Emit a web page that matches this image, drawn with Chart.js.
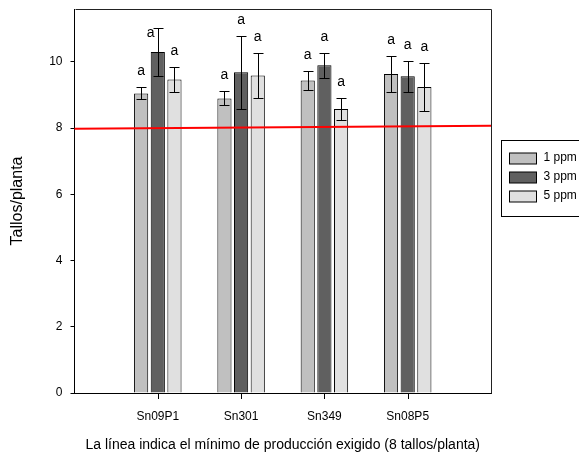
<!DOCTYPE html>
<html>
<head>
<meta charset="utf-8">
<script src="https://cdn.jsdelivr.net/npm/chart.js@4.4.1/dist/chart.umd.min.js"></script>
<style>
  html, body { margin: 0; padding: 0; background: #fff; }
</style>
</head>
<body>
<canvas id="c" width="579" height="459"></canvas>
<script>
// Categories (empty slots at both ends keep the clones away from the frame)
const categories = ['', 'Sn09P1', 'Sn301', 'Sn349', 'Sn08P5', ''];
const seriesNames = ['1 ppm', '3 ppm', '5 ppm'];

// Mean stems per plant
const means1ppm = [null, 9.05, 8.90, 9.44, 9.64, null];
const means3ppm = [null, 10.30, 9.69, 9.90, 9.57, null];
const means5ppm = [null, 9.47, 9.59, 8.58, 9.24, null];

// Standard error of each mean
const err1ppm = [null, 0.18, 0.21, 0.29, 0.54, null];
const err3ppm = [null, 0.73, 1.10, 0.38, 0.47, null];
const err5ppm = [null, 0.37, 0.69, 0.34, 0.72, null];

// Significance letters
const letters1ppm = ['', 'a', 'a', 'a', 'a', ''];
const letters3ppm = ['', 'a', 'a', 'a', 'a', ''];
const letters5ppm = ['', 'a', 'a', 'a', 'a', ''];

// Minimum required production (8 stems/plant), drawn edge to edge
const minimumLine = [7.98, null, null, null, null, 8.07];

const yTicks = [0, 2, 4, 6, 8, 10];
const yMax = 11.6;

const FONT = 'Liberation Sans, Arial, Helvetica, sans-serif';
const fills = ['#c0c0c0', '#606060', '#e0e0e0'];

const errors = [err1ppm, err3ppm, err5ppm];
const letters = [letters1ppm, letters3ppm, letters5ppm];

// Error bars, letters above each bar, and x tick marks under each group
const errorBarPlugin = {
  id: 'errorBars',
  afterDatasetsDraw(chart) {
    const ctx = chart.ctx;
    const y = chart.scales.y;
    const area = chart.chartArea;
    ctx.save();
    chart.data.datasets.forEach((ds, di) => {
      if (ds.type === 'line') return;
      const s = ds.seriesIndex;
      const meta = chart.getDatasetMeta(di);
      meta.data.forEach((bar, i) => {
        const m = ds.data[i];
        const e = errors[s][i];
        if (m == null || e == null) return;
        const x = Math.round(bar.x) + 0.5;
        const yt = Math.round(y.getPixelForValue(m + e)) + 0.5;
        const yb = Math.round(y.getPixelForValue(m - e)) + 0.5;
        ctx.strokeStyle = '#000';
        ctx.lineWidth = 1;
        ctx.beginPath();
        ctx.moveTo(x, yt); ctx.lineTo(x, yb);
        ctx.moveTo(x - 5, yt); ctx.lineTo(x + 5, yt);
        ctx.moveTo(x - 5, yb); ctx.lineTo(x + 5, yb);
        if (s === 1) {
          // tick mark below the axis, centred on the group
          const ab = Math.round(area.bottom);
          ctx.moveTo(x, ab + 1);
          ctx.lineTo(x, ab + 6);
        }
        ctx.stroke();

        const txt = letters[s][i];
        if (!txt) return;
        ctx.fillStyle = '#000';
        ctx.font = '14px ' + FONT;
        ctx.textBaseline = 'middle';
        let ly = yt - 16;
        let lx = bar.x;
        ctx.textAlign = 'center';
        if (ly < area.top + 4) {
          // no room above the frame: set the letter beside the whisker
          ly = yt + 5;
          lx = x - 4;
          ctx.textAlign = 'right';
        }
        ctx.fillText(txt, lx, ly);
      });
    });
    ctx.restore();
  }
};

// Frame top/right edges and the boxed legend
const framePlugin = {
  id: 'frameAndLegend',
  afterDraw(chart) {
    const ctx = chart.ctx;
    const a = chart.chartArea;
    ctx.save();
    ctx.strokeStyle = '#222';
    ctx.lineWidth = 1;
    ctx.beginPath();
    ctx.moveTo(Math.round(a.left) + 0.5, Math.round(a.top) + 0.5);
    ctx.lineTo(Math.round(a.right) + 0.5, Math.round(a.top) + 0.5);
    ctx.lineTo(Math.round(a.right) + 0.5, Math.round(a.bottom) + 0.5);
    ctx.stroke();

    // legend box
    const bx = Math.round(a.right) + 10.5;
    const by = 140.5;
    ctx.strokeStyle = '#000';
    ctx.strokeRect(bx, by, 120, 76);
    const bars = chart.data.datasets.filter(d => d.type !== 'line');
    ctx.font = '12px ' + FONT;
    ctx.textBaseline = 'middle';
    ctx.textAlign = 'left';
    bars.forEach((d, k) => {
      const cy = 158 + k * 19;
      ctx.fillStyle = d.backgroundColor;
      ctx.fillRect(bx + 8, cy - 5, 27, 11);
      ctx.strokeStyle = '#000';
      ctx.strokeRect(bx + 8, cy - 5, 27, 11);
      ctx.fillStyle = '#000';
      ctx.fillText(d.label, bx + 42, cy);
    });
    ctx.restore();
  }
};

const barSet = (s, data) => ({
  type: 'bar',
  label: seriesNames[s],
  seriesIndex: s,
  data: data,
  backgroundColor: fills[s],
  borderColor: '#000',
  borderWidth: 1,
  categoryPercentage: 0.6,
  barPercentage: 0.85,
  order: 1
});

new Chart(document.getElementById('c'), {
  type: 'bar',
  data: {
    labels: categories,
    datasets: [
      {
        type: 'line',
        label: 'mínimo',
        data: minimumLine,
        borderColor: '#ff0000',
        borderWidth: 2,
        pointRadius: 0,
        spanGaps: true,
        fill: false,
        order: 0
      },
      barSet(0, means1ppm),
      barSet(1, means3ppm),
      barSet(2, means5ppm)
    ]
  },
  options: {
    responsive: false,
    animation: false,
    devicePixelRatio: 1,
    layout: { padding: { top: 9, right: 88, left: 0, bottom: 0 } },
    plugins: {
      legend: { display: false },
      tooltip: { enabled: false }
    },
    scales: {
      x: {
        type: 'category',
        offset: false,
        afterFit(scale) {
          scale.height = 66;
          scale.paddingLeft = 0;
          scale.paddingRight = 0;
        },
        grid: { display: false },
        border: { display: true, color: '#000', width: 1 },
        ticks: {
          color: '#000',
          font: { family: FONT, size: 12 },
          padding: 8,
          maxRotation: 0,
          autoSkip: false
        },
        title: {
          display: true,
          text: 'La línea indica el mínimo de producción exigido (8 tallos/planta)',
          color: '#000',
          font: { family: FONT, size: 14 },
          padding: { top: 0, bottom: 5 }
        }
      },
      y: {
        min: 0,
        max: yMax,
        afterFit(scale) {
          scale.width = 74.5;
          scale.paddingTop = 0;
          scale.paddingBottom = 0;
        },
        afterBuildTicks(scale) { scale.ticks = yTicks.map(v => ({ value: v })); },
        grid: {
          drawOnChartArea: false,
          drawTicks: true,
          tickLength: 4,
          color: '#000'
        },
        border: { display: true, color: '#000', width: 1 },
        ticks: {
          color: '#000',
          font: { family: FONT, size: 12 },
          padding: 8
        },
        title: {
          display: true,
          text: 'Tallos/planta',
          color: '#000',
          font: { family: FONT, size: 16 },
          padding: { top: 8, bottom: 0 }
        }
      }
    }
  },
  plugins: [errorBarPlugin, framePlugin]
});
</script>
</body>
</html>
